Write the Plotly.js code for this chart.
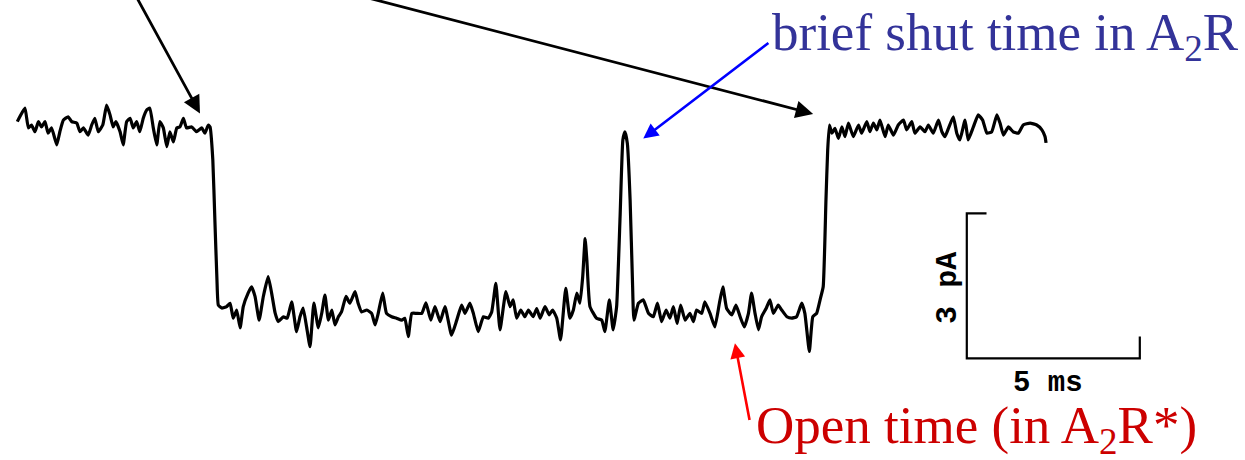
<!DOCTYPE html>
<html>
<head>
<meta charset="utf-8">
<script src="https://cdn.plot.ly/plotly-3.0.1.min.js"></script>
<style>html,body{margin:0;padding:0;background:#fff;}#chart{width:1245px;height:460px;}</style>
</head>
<body>
<div id="chart"></div>
<script>
// Single-channel current trace (time in ms, current in pA; 0 = shut level)
const shutBeforeMs = [0.01,0.23,0.33,0.42,0.52,0.62,0.71,0.81,0.90,1.00,1.15,1.24,1.34,1.48,1.58,1.73,1.82,1.92,2.06,2.16,2.25,2.35,2.48,2.59,2.69,2.78,2.86,2.98,3.07,3.17,3.27,3.36,3.46,3.55,3.65,3.75,3.84,3.94,4.04,4.13,4.23,4.33,4.42,4.52,4.62,4.71,4.81,4.90,5.05,5.19,5.34,5.43,5.53,5.58,5.66,5.72,5.78,5.82];
const shutBeforePa = [0.07,0.35,-0.06,0,-0.14,0.07,-0.04,0.07,-0.17,-0.06,-0.41,-0.14,0.10,0.17,0.07,0.04,-0.14,-0.06,-0.21,0,0.14,-0.14,0,0.41,0.21,-0.04,0.07,-0.14,-0.41,0.07,0.14,-0.06,0.07,-0.14,0.14,0.31,0.35,-0.06,-0.41,0.07,-0.06,-0.45,-0.14,-0.35,-0.06,-0.04,0.14,-0.06,-0.04,-0.14,-0.06,-0.17,0,-0.04,-0.72,-1.97,-3.21,-3.73];

const openMs = [5.92,6.06,6.16,6.25,6.35,6.45,6.54,6.68,6.78,6.88,7.00,7.12,7.26,7.36,7.46,7.55,7.70,7.81,7.94,8.08,8.18,8.27,8.37,8.47,8.58,8.71,8.81,8.90,9.00,9.10,9.19,9.29,9.38,9.51,9.62,9.77,9.86,9.96,10.11,10.25,10.35,10.44,10.57,10.68,10.83,10.97,11.12,11.21,11.31,11.41,11.55,11.70,11.82,11.96,12.08,12.23,12.37,12.56,12.71,12.85,12.95,13.09,13.19,13.33,13.48,13.62,13.72,13.84,13.96,14.13,14.25,14.34,14.44,14.56,14.68,14.78,14.92,15.02,15.12,15.26,15.38,15.48,15.60,15.71,15.86,15.98,16.08,16.18,16.27,16.35,16.42,16.47,16.56,16.75,16.90,16.99,17.12,17.23,17.33,17.43,17.51,17.57,17.64,17.72,17.79,17.83,17.96,18.10,18.25,18.39,18.51,18.63,18.76,18.87,18.97,19.08,19.18,19.31,19.45,19.55,19.64,19.79,19.88,20.03,20.17,20.30,20.40,20.51,20.66,20.78,20.90,21.02,21.14,21.23,21.33,21.43,21.52,21.65,21.76,21.86,22.00,22.10,22.25,22.39,22.53,22.68,22.77,22.90,23.00,23.11,23.21,23.30,23.38,23.43,23.48];
const openPa = [-3.79,-3.76,-3.69,-4.00,-3.83,-4.20,-3.76,-3.48,-3.35,-3.55,-4.04,-3.55,-3.14,-3.48,-3.89,-4.07,-3.97,-4.00,-3.66,-4.28,-3.97,-3.79,-4.18,-4.59,-3.69,-4.20,-3.89,-3.52,-4.04,-3.83,-4.14,-3.97,-3.87,-3.55,-3.69,-3.45,-3.69,-3.87,-3.83,-3.90,-4.14,-3.90,-3.48,-3.90,-3.97,-4.00,-4.04,-4.00,-4.38,-3.90,-3.90,-3.90,-3.68,-4.04,-3.76,-4.07,-3.76,-4.35,-4.04,-3.73,-3.90,-3.69,-3.90,-4.28,-3.97,-4.00,-3.87,-3.28,-4.24,-3.45,-3.76,-3.62,-4.00,-3.83,-3.97,-3.83,-3.97,-3.80,-4.00,-3.76,-3.93,-3.83,-4.00,-4.45,-3.38,-4.00,-3.83,-3.48,-3.69,-3.14,-2.35,-2.80,-3.76,-4.00,-4.04,-4.28,-3.62,-4.24,-3.76,-1.90,-0.31,-0.14,-0.38,-1.55,-3.28,-4.04,-3.69,-3.62,-3.90,-3.97,-3.69,-4.07,-3.83,-4.00,-3.76,-4.11,-3.73,-4.04,-3.90,-4.07,-3.83,-3.90,-3.66,-3.90,-4.18,-3.69,-3.35,-3.80,-3.93,-3.73,-3.97,-4.18,-3.90,-3.48,-3.90,-4.24,-3.97,-3.80,-3.62,-3.90,-3.73,-3.83,-3.97,-4.00,-3.97,-3.69,-3.90,-4.69,-3.97,-3.90,-3.62,-3.35,-1.55,-0.52,0];

const shutAfterMs = [23.55,23.64,23.74,23.84,23.93,24.03,24.17,24.32,24.41,24.56,24.65,24.75,24.85,24.94,25.09,25.18,25.33,25.47,25.62,25.71,25.86,25.95,26.10,26.24,26.34,26.48,26.63,26.73,26.82,26.92,27.06,27.16,27.25,27.40,27.49,27.64,27.78,27.91,28.03,28.17,28.32,28.41,28.51,28.65,28.79,28.94,29.08,29.28,29.47,29.62,29.71,29.74];
const shutAfterPa = [-0.17,-0.07,-0.28,-0.04,-0.24,0.04,-0.24,0,-0.17,0.07,-0.14,0.04,-0.10,0.10,-0.24,0,-0.21,0,0.10,-0.10,0.07,-0.17,-0.04,-0.14,0,-0.17,0.10,-0.14,-0.24,-0.07,0.17,-0.17,-0.31,0.10,-0.31,-0.04,0.21,0.10,-0.17,-0.14,0.21,0.04,-0.21,-0.04,-0.14,-0.17,0,0.04,0,-0.10,-0.24,-0.37];

// Scale bar
const scaleBarMs = 5;
const scaleBarPa = 3;
const scaleBarOrigin = [27.45, -4.83]; // [ms, pA] lower-left corner
const scaleLabels = ["3 pA", "5 ms"];

// Annotation labels
const shutLabel = "brief shut time in A<sub>2</sub>R";
const openLabel = "Open time (in A<sub>2</sub>R*)";

const timeMs = shutBeforeMs.concat(openMs, shutAfterMs);
const currentPa = shutBeforePa.concat(openPa, shutAfterPa);

const x0 = scaleBarOrigin[0], y0 = scaleBarOrigin[1];
const traces = [
  {x: timeMs, y: currentPa, type: 'scatter', mode: 'lines',
   line: {color: '#000', width: 3.2, shape: 'spline', smoothing: 0.4}, hoverinfo: 'skip'},
  {x: [x0 + 0.57, x0, x0, x0 + scaleBarMs, x0 + scaleBarMs],
   y: [y0 + scaleBarPa, y0 + scaleBarPa, y0, y0, y0 + 0.45],
   type: 'scatter', mode: 'lines', line: {color: '#000', width: 2.2}, hoverinfo: 'skip'}
];

const serif = 'Liberation Serif, Times New Roman, serif';
const mono = 'Liberation Mono, Courier New, monospace';

const layout = {
  width: 1245, height: 460,
  margin: {l: 0, r: 0, t: 0, b: 0},
  paper_bgcolor: '#fff', plot_bgcolor: '#fff',
  showlegend: false,
  xaxis: {range: [-0.49, 35.49], visible: false, fixedrange: true},
  yaxis: {range: [-6.936, 2.588], visible: false, fixedrange: true},
  annotations: [
    // black arrows (onset and end of the burst)
    {x: 5.29, y: 0.24, ax: 3.34, ay: 2.80, xref: 'x', yref: 'y', axref: 'x', ayref: 'y',
     showarrow: true, arrowhead: 2, arrowsize: 1.25, arrowwidth: 2.8, arrowcolor: '#000', text: ''},
    {x: 23.01, y: 0.23, ax: 9.24, ay: 2.80, xref: 'x', yref: 'y', axref: 'x', ayref: 'y',
     showarrow: true, arrowhead: 2, arrowsize: 1.25, arrowwidth: 2.8, arrowcolor: '#000', text: ''},
    // blue arrow to brief shutting
    {x: 18.10, y: -0.28, ax: 21.76, ay: 1.72, xref: 'x', yref: 'y', axref: 'x', ayref: 'y',
     showarrow: true, arrowhead: 2, arrowsize: 1.15, arrowwidth: 2.6, arrowcolor: '#0000ff', text: ''},
    // red arrow to open level
    {x: 20.75, y: -4.52, ax: 21.18, ay: -6.14, xref: 'x', yref: 'y', axref: 'x', ayref: 'y',
     showarrow: true, arrowhead: 2, arrowsize: 1.15, arrowwidth: 2.6, arrowcolor: '#ff0000', text: ''},
    {x: 21.76, y: 1.85, xref: 'x', yref: 'y', xanchor: 'left', yanchor: 'middle', showarrow: false,
     text: shutLabel, font: {family: serif, size: 53, color: '#333399'}},
    {x: 21.33, y: -6.29, xref: 'x', yref: 'y', xanchor: 'left', yanchor: 'middle', showarrow: false,
     borderpad: 0, text: openLabel, font: {family: serif, size: 53, color: '#cc0000'}},
    {x: 26.91, y: -3.37, xref: 'x', yref: 'y', showarrow: false, textangle: -90,
     text: '<b>' + scaleLabels[0] + '</b>', font: {family: mono, size: 30, color: '#000'}},
    {x: 29.80, y: -5.36, xref: 'x', yref: 'y', showarrow: false,
     text: '<b>' + scaleLabels[1] + '</b>', font: {family: mono, size: 29, color: '#000'}}
  ]
};

Plotly.newPlot('chart', traces, layout, {staticPlot: true, displayModeBar: false});
</script>
</body>
</html>
